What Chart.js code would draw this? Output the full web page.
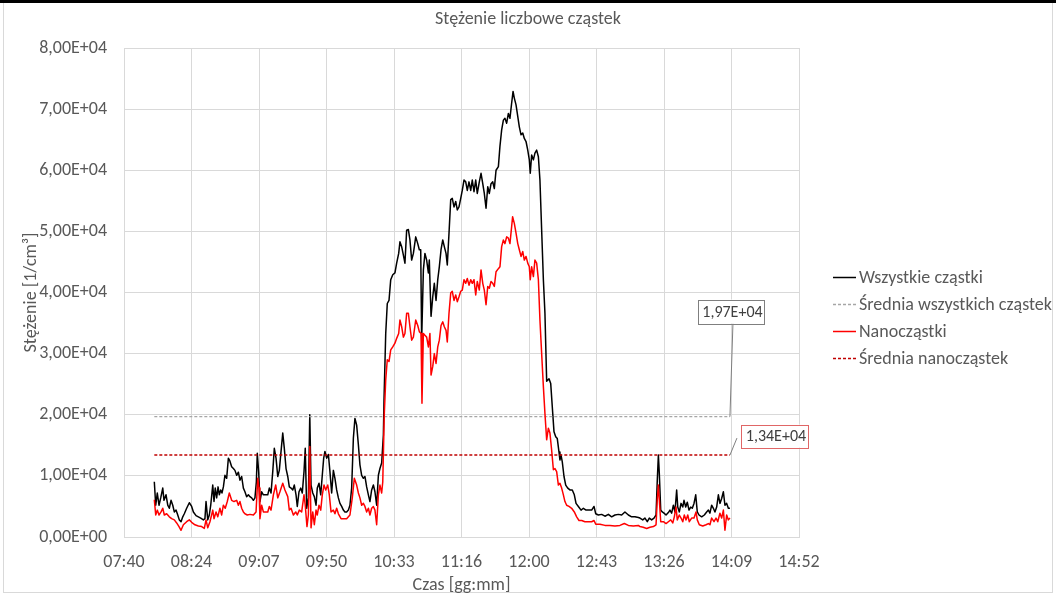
<!DOCTYPE html>
<html lang="pl">
<head>
<meta charset="utf-8">
<title>Stężenie liczbowe cząstek</title>
<script src="https://cdn.jsdelivr.net/npm/chart.js@4.4.1/dist/chart.umd.min.js"></script>
<style>
  html, body { margin: 0; padding: 0; background: #fff; }
  #wrap { width: 1056px; height: 596px; }
</style>
</head>
<body>
<div id="wrap"><canvas id="chart" width="1056" height="596"></canvas></div>
<script>
  // os czasu: minuty od polnocy (Excel: 0,32 - 0,62 doby, krok 0,03)
  const tickLabels = ["07:40", "08:24", "09:07", "09:50", "10:33", "11:16", "12:00", "12:43", "13:26", "14:09", "14:52"];
  const osMin = 460.8, osMax = 892.8, osKrok = 43.2;

  const czasWszystkie = [
    480.2, 481.1, 482.1, 483.2, 484.3, 485.6, 486.4, 487.7, 488.8, 489.8, 490.9, 492.0, 493.0, 494.1, 495.2, 496.2, 497.3, 498.4, 499.4, 500.9,
    502.6, 504.1, 505.2, 506.9, 508.4, 509.9, 511.6, 512.6, 513.3, 514.4, 515.4, 516.3, 517.6, 518.4, 519.2, 520.1, 521.0, 521.8, 522.7, 523.5,
    524.4, 525.4, 526.5, 527.6, 528.6, 529.7, 530.8, 531.8, 532.9, 534.0, 535.0, 536.1, 537.2, 538.2, 539.3, 540.4, 541.4, 542.5, 543.6, 544.6,
    545.5, 546.1, 547.0, 547.8, 548.9, 550.0,
    552.8, 553.8, 554.9, 556.0, 557.0, 558.1, 559.2, 560.2, 561.3, 562.4, 563.4, 564.5, 565.6, 566.6, 567.7, 568.8, 569.8, 570.9, 571.7, 572.8,
    573.9, 574.9, 576.0, 576.8, 577.7, 578.8, 579.7, 580.5, 581.6, 582.6, 583.7, 584.5, 585.6, 586.7, 587.7, 588.6, 589.4, 590.5, 591.6, 592.6,
    593.7, 594.8, 595.8, 596.9, 598.0, 599.0, 600.1, 601.2, 602.2, 603.3, 604.4, 605.4, 606.5, 607.6, 608.6, 609.7, 610.8, 611.8, 612.9, 614.0,
    615.0, 616.1, 617.2, 618.2, 619.3, 620.4, 621.4, 622.5, 623.6, 624.6, 625.7, 626.8,
    627.2, 628.3, 629.3, 630.4, 631.5, 632.8, 634.2, 635.3, 636.6, 637.4, 638.5, 639.6, 640.6, 641.7, 642.8, 643.8, 644.9, 646.0, 647.5, 648.8,
    649.8, 650.7, 651.3, 652.4, 653.4, 654.5, 655.6, 656.2, 657.3, 658.4, 659.4, 660.5, 661.6, 662.6, 663.7, 664.8, 665.8, 666.9, 667.7, 668.8,
    669.9, 670.9, 672.0, 673.1, 674.1, 675.2, 676.3, 677.3, 678.4, 679.5, 680.5, 681.6, 682.7, 683.7, 684.8, 685.9, 686.9, 688.2, 689.3, 690.4,
    691.4, 692.5, 693.6, 694.6, 695.7, 696.8, 697.8, 698.9, 700.4, 701.4, 702.5, 703.6, 704.6, 705.7, 706.8, 707.8, 708.9, 709.8, 710.6, 711.7,
    712.8, 713.8, 714.9, 716.0, 717.0, 718.1, 719.2, 720.2, 720.8, 721.7, 722.8, 723.8, 724.9, 726.0, 727.0, 728.1, 729.2, 730.2,
    731.3, 732.8, 733.9, 734.9, 736.0, 737.1, 738.1, 739.2, 739.8, 740.5, 741.3, 742.4, 743.5, 744.8, 746.2, 747.7, 749.0, 750.1, 751.6, 753.3,
    754.8, 756.5, 758.4, 760.1, 761.6, 762.7, 764.4, 766.5, 768.6, 770.8, 772.9, 775.0, 777.2, 779.3, 781.4, 783.6, 785.7, 787.8, 790.0,
    791.0, 792.8, 794.2, 795.7, 797.0, 798.5, 800.0, 801.3, 802.1, 802.8, 803.4, 804.3, 805.3, 806.4, 807.7, 809.2, 810.2, 811.3, 812.4, 813.4,
    814.5, 815.2, 816.2, 817.3, 818.4, 819.2, 820.3, 821.3, 822.4, 823.5, 824.5, 825.6, 826.7, 827.7, 828.8, 830.5, 832.2, 833.7, 834.8, 835.8,
    836.9, 838.0, 839.0, 840.1, 841.2, 842.2, 843.3, 844.4, 845.4, 846.5, 847.6, 848.6
  ];
  const wszystkieCzastki = [
    9050, 5200, 7200, 5200, 6400, 8000, 6000, 6900, 5200, 4700, 6000, 5200, 4100, 4400, 3600, 2800, 2500, 3300, 3800, 4700,
    5600, 5000, 4100, 3500, 3300, 3100, 2800, 3000, 5800, 2800, 3600, 5200, 8500, 5800, 8000, 6400, 8200, 6900, 7700, 7200,
    8200, 10100, 9600, 12900, 12400, 11500, 11200, 10900, 10100, 10600, 9300, 9900, 8000, 7400, 6600, 6900, 6600, 6400, 6000, 6400,
    9000, 13700, 10600, 5800, 7400, 6900,
    6900, 8000, 7200, 10700, 14500, 12900, 9900, 10900, 14000, 17000, 14500, 11200, 9900, 8200, 8000, 7700, 8500, 6900, 5000, 7400,
    8000, 7200, 10700, 14500, 4700, 6400, 20000, 8500, 7200, 6600, 5200, 8000, 8800, 6900, 10100, 12900, 14000, 12900, 13500, 10700,
    7200, 10900, 9600, 7700, 6400, 5500, 5000, 4400, 4100, 4100, 4400, 5200, 8000, 16200, 19400, 18300, 15100, 11800, 10100, 9600,
    9900, 8200, 6900, 5800, 7700, 8500, 7400, 5200, 10100, 11200, 12100, 16700,
    22400, 33300, 38200, 38700, 42100, 42900, 43200, 44800, 46400, 48300, 47500, 46100, 44800, 50200, 50300, 48600, 45300, 46400, 49100, 48000,
    47000, 47000, 32200, 43700, 46400, 45300, 43200, 45300, 36100, 39300, 41500, 38700, 42100, 44200, 47000, 48600, 47500, 46400, 44500, 49700,
    55200, 55400, 54000, 54900, 53500, 54000, 55400, 56700, 58400, 58100, 56700, 58100, 56700, 58400, 56500, 58400, 56200, 58100, 59500, 57800,
    56200, 53800, 57300, 56200, 57800, 58100, 57000, 60000, 60600, 63900, 66600, 68200, 68500, 67700, 69300, 68500, 71000, 72900, 71800, 70700,
    68800, 67100, 65800, 66100, 65200, 64700, 63300, 61700, 59500, 62500, 61700, 62800, 63300, 62200, 58400, 50200, 42100, 36600,
    25500, 25900, 25100, 21300, 17200, 16400, 16100, 13900, 12600, 13400, 12300, 9900, 8500, 8000, 7700, 7700, 6900, 5500, 5000, 4400,
    4700, 4400, 4400, 4400, 5000, 3800, 3600, 3700, 3400, 3700, 3300, 3600, 3700, 3600, 4100, 3600, 3300, 3300, 3200,
    3100, 2800, 3100, 2500, 3100, 2800, 3100, 3600, 9300, 13400, 10400, 4400, 4100, 3900, 3600, 4000, 4400, 3900, 5200, 4100,
    7700, 4900, 4100, 5500, 4900, 6000, 4900, 5700, 4400, 4900, 4700, 5500, 6900, 4100, 3600, 3300, 3600, 4100, 4400, 3900,
    5200, 4700, 4100, 4900, 6900, 5500, 6300, 7400, 5200, 5500, 4700, 4700
  ];

  const czasNano = [
    480.2, 481.1, 482.1, 483.2, 484.5, 485.6, 486.6, 488.1, 489.8, 491.3, 493.0, 494.5, 496.0, 497.3, 498.8, 500.9, 502.6, 504.1, 506.2, 508.4,
    510.5, 512.2, 513.3, 514.4, 515.8, 517.6, 518.4, 519.7, 520.8, 522.2, 523.3, 524.4, 525.6, 526.9, 528.2, 529.7, 531.2, 532.9, 534.0, 535.0,
    536.1, 537.2, 538.2, 539.7, 541.4, 543.6, 545.3, 546.4, 547.2, 547.8, 548.9, 550.0,
    552.8, 553.8, 554.9, 556.4, 557.9, 559.2, 560.6, 562.4, 563.8, 565.6, 566.6, 567.7, 569.2, 570.7, 571.7, 573.0, 574.5, 576.0, 576.8, 577.9,
    578.8, 579.7, 580.5, 581.6, 582.6, 583.7, 584.5, 585.6, 586.7, 587.7, 588.8, 589.9, 591.2, 592.2, 593.3, 594.8, 595.8, 596.9, 598.0, 599.7,
    601.2, 603.3, 605.4, 606.9, 608.2, 609.7, 610.8, 611.8, 612.9, 614.0, 615.0, 616.1, 617.2, 618.2, 619.3, 620.4, 621.4, 622.5, 623.6, 624.6,
    625.7, 626.4,
    627.4, 628.3, 629.3, 630.4, 631.5, 632.8, 634.2, 635.3, 636.6, 637.4, 638.5, 639.6, 640.6, 641.7, 642.8, 643.8, 644.9, 646.0, 647.5, 648.8,
    649.8, 650.9, 651.5, 652.4, 653.4, 654.5, 655.6, 656.6, 657.3, 658.4, 659.4, 660.5, 661.6, 662.6, 663.7, 664.8, 665.8, 666.9, 667.7, 668.8,
    669.9, 670.9, 672.0, 673.1, 674.1, 675.2, 676.3, 677.3, 678.4, 679.5, 680.5, 681.6, 682.7, 683.7, 684.8, 685.9, 686.9, 688.2, 689.3, 690.4,
    691.4, 692.5, 693.6, 694.6, 695.7, 696.8, 697.8, 698.9, 700.4, 701.4, 702.5, 703.6, 704.6, 705.7, 706.8, 707.8, 708.9, 709.5, 710.6, 711.7,
    712.8, 713.8, 714.9, 716.0, 717.0, 718.1, 719.2, 720.2, 720.8, 721.7, 722.8, 723.8, 724.9, 726.0, 727.0, 728.1, 729.2, 730.2,
    731.3, 732.4, 733.4, 734.5, 735.6, 736.6, 737.7, 738.8, 739.8, 740.9, 742.0, 743.0, 744.1, 745.6, 747.3, 749.0, 750.5, 752.0, 753.7, 755.8,
    758.0, 760.1, 761.6, 762.7, 765.4, 768.6, 771.8, 775.0, 778.2, 781.0, 783.6, 786.8, 790.0,
    791.0, 793.1, 795.3, 797.4, 799.6, 801.3, 802.1, 802.8, 803.4, 804.3, 806.0, 807.7, 809.2, 810.7, 812.0, 813.0, 814.1, 814.9, 816.2, 817.3,
    818.4, 819.4, 820.5, 821.6, 822.6, 824.1, 825.6, 826.9, 827.7, 829.0, 831.2, 833.3, 834.8, 835.8, 836.9, 838.4, 839.7, 840.8, 842.2, 843.3,
    844.4, 845.4, 846.5, 847.6, 848.6
  ];
  const nanoczastki = [
    6100, 3600, 4400, 3600, 4100, 4700, 3600, 3800, 3300, 3000, 2800, 2300, 1700, 1100, 2000, 2500, 2800, 2400, 2000, 1800,
    1700, 1400, 2800, 1500, 2500, 4400, 3000, 4100, 3300, 4700, 3600, 5200, 4700, 5800, 7200, 6000, 5800, 6000, 5200, 5800,
    4700, 4100, 3800, 3600, 3700, 3600, 4100, 9600, 8000, 3000, 5200, 4100,
    4100, 5000, 4400, 6900, 8500, 6400, 7400, 8800, 7700, 6600, 4400, 4700, 3600, 4100, 3600, 4400, 4100, 6900, 5200, 1700,
    3600, 14800, 1500, 4100, 2000, 4400, 3600, 5200, 4400, 6900, 8500, 7700, 8500, 6900, 4100, 4400, 3800, 4700, 3800, 3000,
    3000, 3000, 3600, 6400, 9600, 8500, 7200, 6400, 5200, 5500, 5000, 4100, 4700, 3600, 4700, 5000, 4400, 2000, 6900, 8500,
    7200, 9000,
    20200, 25700, 29000, 28700, 30600, 31100, 31700, 32500, 33300, 35500, 34400, 32700, 33300, 36600, 36600, 34400, 32200, 32700, 35500, 34600,
    33600, 33300, 21900, 33300, 33000, 32700, 31100, 33300, 26500, 27900, 30000, 28400, 31100, 32200, 34600, 35200, 34400, 33800, 31900, 36600,
    39900, 40200, 38700, 39600, 38500, 39300, 40200, 40400, 42100, 41500, 42300, 41200, 42100, 41500, 42100, 39600, 41800, 40400, 43700, 41500,
    40400, 38000, 41000, 40700, 41800, 41500, 41000, 43400, 43900, 44200, 47500, 48600, 48000, 49100, 48900, 48000, 50800, 52400, 51300, 49700,
    48000, 47000, 45900, 46700, 45300, 45900, 44800, 44200, 42100, 44200, 42600, 45300, 44800, 42100, 35500, 30000, 24600, 20200,
    15900, 17800, 17000, 14200, 11000, 11200, 10700, 8500, 8800, 8000, 6900, 5800, 5200, 5000, 4700, 4100, 3300, 2700, 2700, 2500,
    2500, 2500, 2700, 2100, 2100, 1900, 1900, 1800, 1900, 2200, 1900, 1800, 1900,
    1700, 1600, 1400, 1600, 1700, 2000, 6100, 8500, 6100, 2500, 2500, 2200, 2500, 2800, 2300, 3300, 4900, 2800, 3600, 3100,
    2500, 3600, 2800, 3600, 2500, 3100, 3100, 4100, 2800, 2000, 1800, 2000, 2200, 2000, 3100, 2500, 3100, 2500, 3900, 3100,
    4400, 1100, 3600, 2800, 3100
  ];

  const sredniaWszystkich = 19700;
  const sredniaNano = 13400;

  const FONT = "Carlito, Calibri, Lato, sans-serif";
  const TEXT = "#595959";
  const ROZMIAR = 18;

  function formatE(v) {
    const [m, e] = Number(v).toExponential(2).split("e");
    const exp = parseInt(e, 10);
    return m.replace(".", ",") + "E" + (exp < 0 ? "-" : "+") + String(Math.abs(exp)).padStart(2, "0");
  }

  const punkty = (czas, wartosci) => czas.map((t, i) => ({ x: t, y: wartosci[i] }));
  const linia = (czas, y) => [{ x: czas[0], y: y }, { x: czas[czas.length - 1], y: y }];

  // tlo i ramka wykresu
  const tlo = {
    id: "tlo",
    beforeDraw(chart) {
      const { ctx, width, height } = chart;
      ctx.save();
      ctx.fillStyle = "#fff";
      ctx.fillRect(0, 0, width, height);
      ctx.strokeStyle = "#d9d9d9";
      ctx.lineWidth = 1;
      ctx.strokeRect(3.5, 2.5, width - 7, height - 6);
      ctx.fillStyle = "#000";
      ctx.fillRect(0, 0, width, 3);
      ctx.restore();
    }
  };

  // legenda po prawej stronie
  const legenda = {
    id: "legenda",
    afterDraw(chart) {
      const { ctx, chartArea } = chart;
      const x0 = chartArea.right + 34;
      const y0 = chartArea.top + 229;
      ctx.save();
      chart.data.datasets.forEach((ds, i) => {
        const y = y0 + i * 27;
        ctx.strokeStyle = ds.borderColor;
        ctx.lineWidth = ds.borderWidth;
        ctx.setLineDash(ds.borderDash || []);
        ctx.beginPath();
        ctx.moveTo(x0, y + 0.5);
        ctx.lineTo(x0 + 23, y + 0.5);
        ctx.stroke();
        ctx.setLineDash([]);
        ctx.fillStyle = TEXT;
        ctx.font = ROZMIAR + "px " + FONT;
        ctx.textBaseline = "middle";
        ctx.textAlign = "left";
        ctx.fillText(ds.label, x0 + 26, y + 1);
      });
      ctx.restore();
    }
  };

  // etykiety srednich (ramka + linia odniesienia)
  const etykiety = [
    { ds: 1, dx: 1.5, dy: -105, w: 66, h: 24, ramka: "#7f7f7f", lx: 1.5, ly: 12 },
    { ds: 3, dx: 45, dy: -19, w: 67, h: 23, ramka: "#e06666", lx: -38, ly: 2 }
  ];
  const etykietySrednich = {
    id: "etykietySrednich",
    afterDatasetsDraw(chart) {
      const { ctx } = chart;
      ctx.save();
      etykiety.forEach(e => {
        const meta = chart.getDatasetMeta(e.ds);
        const p = meta.data[meta.data.length - 1];
        const wartosc = chart.data.datasets[e.ds].data[0].y;
        const cx = p.x + e.dx, cy = p.y + e.dy;
        ctx.strokeStyle = "#7f7f7f";
        ctx.lineWidth = 1;
        ctx.beginPath();
        ctx.moveTo(p.x, p.y);
        ctx.lineTo(cx + e.lx, cy + e.ly);
        ctx.stroke();
        ctx.fillStyle = "#fff";
        ctx.fillRect(cx - e.w / 2, cy - e.h / 2, e.w, e.h);
        ctx.strokeStyle = e.ramka;
        ctx.strokeRect(Math.round(cx - e.w / 2) + 0.5, Math.round(cy - e.h / 2) + 0.5, e.w, e.h);
        ctx.fillStyle = "#404040";
        ctx.font = "16px " + FONT;
        ctx.textAlign = "center";
        ctx.textBaseline = "middle";
        ctx.fillText(formatE(wartosc), cx + 1, cy + 1);
      });
      ctx.restore();
    }
  };

  new Chart(document.getElementById("chart"), {
    type: "line",
    data: {
      datasets: [
        {
          label: "Wszystkie cząstki",
          data: punkty(czasWszystkie, wszystkieCzastki),
          borderColor: "#000000",
          borderWidth: 1.5,
          order: 4
        },
        {
          label: "Średnia wszystkich cząstek",
          data: linia(czasWszystkie, sredniaWszystkich),
          borderColor: "#a6a6a6",
          borderWidth: 1.3,
          borderDash: [3, 2],
          order: 3
        },
        {
          label: "Nanocząstki",
          data: punkty(czasNano, nanoczastki),
          borderColor: "#ff0000",
          borderWidth: 1.5,
          order: 2
        },
        {
          label: "Średnia nanocząstek",
          data: linia(czasNano, sredniaNano),
          borderColor: "#c00000",
          borderWidth: 1.5,
          borderDash: [3, 2],
          order: 1
        }
      ]
    },
    options: {
      responsive: false,
      animation: false,
      devicePixelRatio: 1,
      parsing: false,
      elements: {
        point: { radius: 0, hoverRadius: 0 },
        line: { tension: 0, borderJoinStyle: "round", fill: false }
      },
      layout: { padding: 0 },
      plugins: {
        legend: { display: false },
        tooltip: { enabled: false },
        title: {
          display: true,
          text: "Stężenie liczbowe cząstek",
          color: TEXT,
          font: { family: FONT, size: ROZMIAR, weight: "normal" },
          padding: { top: 9, bottom: 17.4 }
        }
      },
      scales: {
        x: {
          type: "linear",
          min: osMin,
          max: osMax,
          grid: { color: "#d9d9d9", drawTicks: false },
          border: { color: "#d9d9d9" },
          ticks: {
            stepSize: osKrok,
            autoSkip: false,
            maxRotation: 0,
            padding: 15,
            color: TEXT,
            font: { family: FONT, size: ROZMIAR },
            callback: (v, i) => tickLabels[i]
          },
          title: {
            display: true,
            text: "Czas [gg:mm]",
            color: TEXT,
            font: { family: FONT, size: ROZMIAR },
            padding: { top: 0, bottom: 0 }
          },
          afterFit: s => { s.height = 59; }
        },
        y: {
          min: 0,
          max: 80000,
          grid: { color: "#d9d9d9", drawTicks: false },
          border: { color: "#d9d9d9" },
          ticks: {
            stepSize: 10000,
            padding: 17,
            color: TEXT,
            font: { family: FONT, size: ROZMIAR },
            callback: v => formatE(v)
          },
          title: {
            display: true,
            text: "Stężenie [1/cm³]",
            color: TEXT,
            font: { family: FONT, size: ROZMIAR },
            padding: { top: 21, bottom: 0 }
          },
          afterFit: s => { s.width = 124; }
        },
        prawy: {
          type: "linear",
          position: "right",
          display: true,
          grid: { display: false },
          border: { display: false },
          ticks: { display: false },
          afterFit: s => { s.width = 257; }
        }
      }
    },
    plugins: [tlo, legenda, etykietySrednich]
  });
</script>
</body>
</html>
